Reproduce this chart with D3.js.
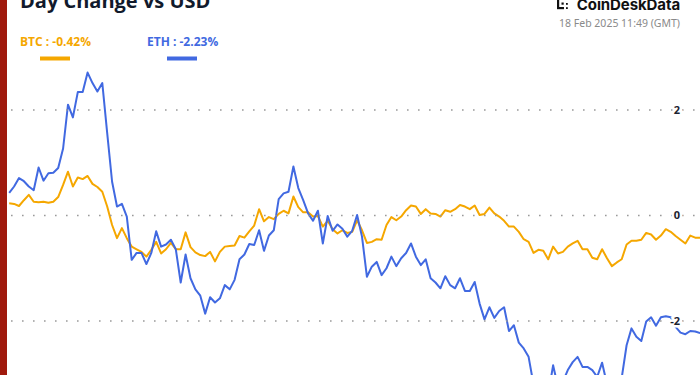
<!DOCTYPE html>
<html>
<head>
<meta charset="utf-8">
<script src="https://cdn.jsdelivr.net/npm/d3@7"></script>
<style>
  html, body { margin: 0; padding: 0; background: #fff; }
  svg { display: block; }
</style>
</head>
<body>
<div id="chart"></div>
<script>
// Day change (%) vs USD, 10-minute steps
const btcValues = [
  0.23, 0.22, 0.18, 0.29, 0.39, 0.26, 0.25, 0.26, 0.24, 0.26,
  0.35, 0.58, 0.83, 0.55, 0.72, 0.69, 0.75, 0.60, 0.54, 0.45,
  0.17, -0.18, -0.43, -0.24, -0.43, -0.59, -0.64, -0.69, -0.78, -0.65,
  -0.50, -0.72, -0.64, -0.52, -0.64, -0.64, -0.32, -0.60, -0.70, -0.75,
  -0.77, -0.69, -0.87, -0.69, -0.59, -0.58, -0.57, -0.39, -0.42, -0.30,
  -0.19, 0.12, -0.11, -0.03, -0.07, 0.03, 0.09, 0.04, 0.36, 0.16,
  0.06, 0.06, -0.02, -0.01, -0.21, -0.10, -0.26, -0.34, -0.28, -0.33,
  -0.31, -0.09, -0.28, -0.52, -0.50, -0.45, -0.46, -0.18, -0.03, -0.09,
  -0.02, 0.10, 0.19, 0.17, 0.03, 0.12, 0.04, 0.03, -0.02, 0.10,
  0.07, 0.12, 0.20, 0.17, 0.12, 0.19, 0.01, 0.03, 0.15, 0.04,
  -0.02, -0.10, -0.21, -0.21, -0.31, -0.45, -0.50, -0.71, -0.65, -0.67,
  -0.83, -0.59, -0.72, -0.69, -0.59, -0.53, -0.48, -0.64, -0.64, -0.80,
  -0.83, -0.64, -0.81, -0.96, -0.89, -0.83, -0.55, -0.48, -0.48, -0.46,
  -0.33, -0.36, -0.46, -0.38, -0.26, -0.31, -0.39, -0.46, -0.53, -0.38,
  -0.42, -0.42
];

const ethValues = [
  0.43, 0.55, 0.71, 0.65, 0.55, 0.48, 0.91, 0.66, 0.80, 0.81,
  0.90, 1.27, 2.10, 1.86, 2.34, 2.34, 2.71, 2.51, 2.35, 2.51,
  1.56, 0.64, 0.17, 0.22, -0.02, -0.84, -0.71, -0.71, -0.92, -0.71,
  -0.30, -0.59, -0.55, -0.46, -0.64, -1.27, -0.74, -1.19, -1.40, -1.52,
  -1.86, -1.55, -1.65, -1.57, -1.32, -1.40, -1.22, -0.83, -0.74, -0.54,
  -0.56, -0.28, -0.67, -0.38, -0.28, 0.31, 0.42, 0.45, 0.93, 0.52,
  0.29, 0.04, -0.10, 0.09, -0.53, -0.01, -0.29, -0.17, -0.25, -0.40,
  -0.29, 0.01, -0.40, -1.16, -0.97, -0.88, -1.13, -1.00, -0.78, -0.96,
  -0.81, -0.71, -0.53, -0.78, -0.94, -0.83, -1.19, -1.27, -1.38, -1.15,
  -1.32, -1.38, -1.19, -1.43, -1.43, -1.26, -1.67, -1.97, -1.74, -1.94,
  -1.81, -1.74, -2.19, -2.08, -2.41, -2.52, -2.68, -3.20, -3.35, -3.30,
  -3.40, -2.84, -3.25, -3.15, -2.93, -2.78, -2.68, -2.87, -2.87, -2.93,
  -3.06, -2.79, -3.20, -3.30, -3.25, -3.08, -2.46, -2.14, -2.30, -2.38,
  -2.01, -1.93, -2.09, -1.93, -1.91, -1.93, -2.11, -2.22, -2.25, -2.19,
  -2.20, -2.23
];

const yTicks = [2, 0, -2];
const legendLabels = ['BTC : -0.42%', 'ETH : -2.23%'];
const titleText = 'Day Change vs USD';
const brandText = 'CoinDeskData';
const stampText = '18 Feb 2025 11:49 (GMT)';

const width = 700, height = 375;
const btcColor = '#f5a700', ethColor = '#4169e1';

const svg = d3.select('#chart').append('svg')
  .attr('width', width)
  .attr('height', height);

const x = d3.scaleLinear()
  .domain([0, btcValues.length - 1])
  .range([9.2, 700.1]);

const y = d3.scaleLinear()
  .domain([-2, 2])
  .range([321, 110]);

// dotted grid with labels on the right
const grid = svg.append('g');
grid.selectAll('line')
  .data(yTicks)
  .enter()
  .append('line')
  .attr('x1', 11)
  .attr('x2', width)
  .attr('y1', d => y(d))
  .attr('y2', d => y(d))
  .attr('stroke', '#9a9a9a')
  .attr('stroke-width', 1.6)
  .attr('stroke-dasharray', '1.6,9.4');

// series
const line = d3.line()
  .x((d, i) => x(i))
  .y(d => y(d));

svg.append('path')
  .datum(btcValues)
  .attr('fill', 'none')
  .attr('stroke', btcColor)
  .attr('stroke-width', 2)
  .attr('stroke-linejoin', 'round')
  .attr('d', line);

svg.append('path')
  .datum(ethValues)
  .attr('fill', 'none')
  .attr('stroke', ethColor)
  .attr('stroke-width', 2)
  .attr('stroke-linejoin', 'round')
  .attr('d', line);

grid.selectAll('text')
  .data(yTicks)
  .enter()
  .append('text')
  .attr('x', 680)
  .attr('y', d => y(d))
  .attr('dy', '0.36em')
  .attr('text-anchor', 'end')
  .style('font-family', '"Open Sans", sans-serif')
  .style('font-size', '11px')
  .style('font-weight', 700)
  .style('fill', '#1c2331')
  .style('stroke', '#fff')
  .style('stroke-width', 5)
  .style('paint-order', 'stroke')
  .text(d => d);
grid.raise();

// left red bar
svg.append('rect')
  .attr('x', 0)
  .attr('y', 0)
  .attr('width', 7)
  .attr('height', height)
  .attr('fill', '#a01a0d');

// title (cut off by the top edge)
svg.append('text')
  .attr('x', 20)
  .attr('y', 8)
  .style('font-family', '"Open Sans", sans-serif')
  .style('font-size', '20px')
  .style('font-weight', 700)
  .style('fill', '#111a2c')
  .text(titleText);

// legend
const legend = svg.append('g');
const legendX = [20, 147];
const legendColors = [btcColor, ethColor];
legendLabels.forEach((label, i) => {
  legend.append('text')
    .attr('x', legendX[i])
    .attr('y', 46)
    .style('font-family', '"Open Sans", sans-serif')
    .style('font-size', '12px')
    .style('font-weight', 700)
    .style('fill', legendColors[i])
    .text(label);
  legend.append('rect')
    .attr('x', legendX[i] + 20)
    .attr('y', 56.5)
    .attr('width', 30)
    .attr('height', 4)
    .attr('fill', legendColors[i]);
});

// brand + timestamp
const brand = svg.append('g');
brand.append('rect').attr('x', 557).attr('y', 0).attr('width', 2.2).attr('height', 9).attr('fill', '#111');
brand.append('rect').attr('x', 557).attr('y', 7).attr('width', 7).attr('height', 2.2).attr('fill', '#111');
brand.append('rect').attr('x', 561.5).attr('y', 2.5).attr('width', 2.2).attr('height', 2.2).attr('fill', '#111');
brand.append('rect').attr('x', 566).attr('y', 3).attr('width', 1.8).attr('height', 1.8).attr('fill', '#111');
brand.append('rect').attr('x', 566).attr('y', 7.2).attr('width', 1.8).attr('height', 1.8).attr('fill', '#111');

brand.append('text')
  .attr('x', 680)
  .attr('y', 9.5)
  .attr('text-anchor', 'end')
  .style('font-family', 'Inter, sans-serif')
  .style('font-size', '15px')
  .style('font-weight', 700)
  .style('letter-spacing', '-0.1px')
  .style('fill', '#111')
  .text(brandText);

brand.append('text')
  .attr('x', 680)
  .attr('y', 27)
  .attr('text-anchor', 'end')
  .style('font-family', '"Noto Sans", sans-serif')
  .style('font-size', '10.5px')
  .style('fill', '#8a8a8a')
  .text(stampText);
</script>
</body>
</html>
